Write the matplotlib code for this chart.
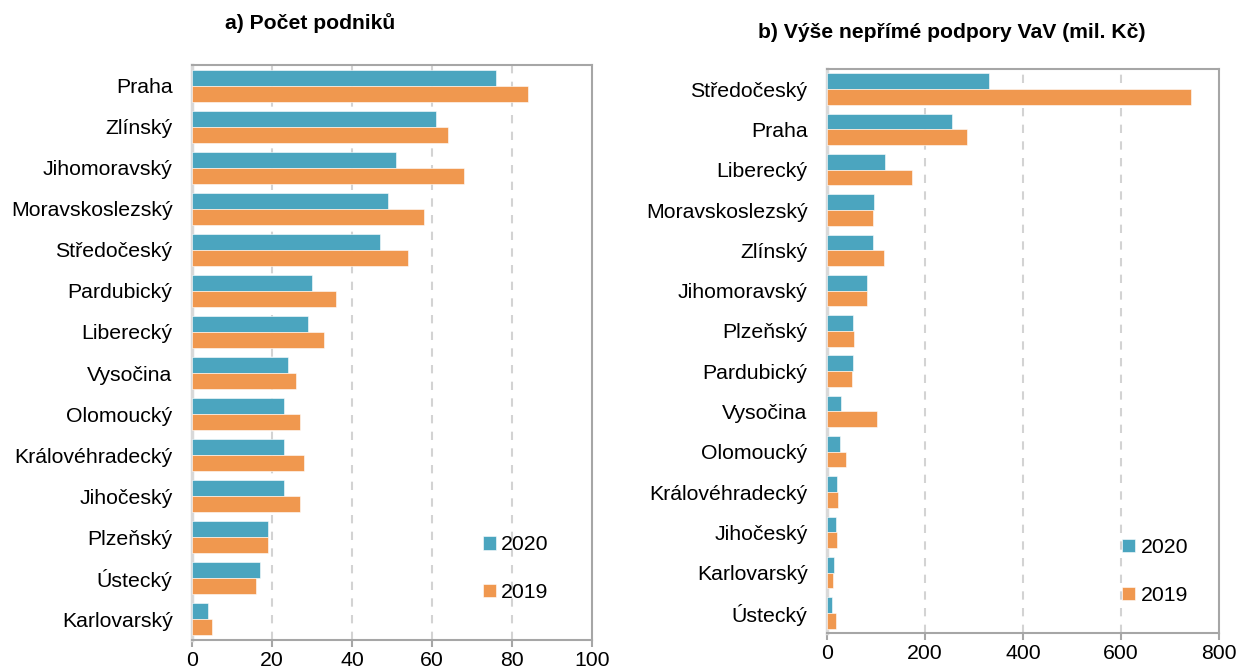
import matplotlib
matplotlib.use("Agg")
import matplotlib.pyplot as plt
import numpy as np

# ── data ────────────────────────────────────────────────────────────────
regions_a = ["Praha", "Zlínský", "Jihomoravský", "Moravskoslezský", "Středočeský",
             "Pardubický", "Liberecký", "Vysočina", "Olomoucký", "Královéhradecký",
             "Jihočeský", "Plzeňský", "Ústecký", "Karlovarský"]
firms_2020 = [76, 61, 51, 49, 47, 30, 29, 24, 23, 23, 23, 19, 17, 4]
firms_2019 = [84, 64, 68, 58, 54, 36, 33, 26, 27, 28, 27, 19, 16, 5]

regions_b = ["Středočeský", "Praha", "Liberecký", "Moravskoslezský", "Zlínský",
             "Jihomoravský", "Plzeňský", "Pardubický", "Vysočina", "Olomoucký",
             "Královéhradecký", "Jihočeský", "Karlovarský", "Ústecký"]
support_2020 = [330, 256, 118, 96, 93, 81, 54, 53, 29, 26, 20, 19, 14, 11]
support_2019 = [742, 286, 173, 94, 116, 81, 55, 52, 103, 39, 23, 20, 13, 18]

years = ["2020", "2019"]
xticks_a = [0, 20, 40, 60, 80, 100]
xticks_b = [0, 200, 400, 600, 800]

TEAL = "#4BA5BF"
ORANGE = "#F0984F"

plt.rcParams["font.family"] = ["Liberation Sans", "DejaVu Sans"]

fig = plt.figure(figsize=(12.37, 6.71), dpi=100)
W, H = 1237, 671


def px_axes(left, top, right, bottom):
    return fig.add_axes([left / W, 1 - bottom / H, (right - left) / W, (bottom - top) / H])


def panel(ax, cats, v20, v19, ticks, leg_x, leg_y):
    y = np.arange(len(cats))
    h = 0.39
    ax.barh(y - h / 2, v20, height=h, color=TEAL, label=years[0], zorder=3,
            edgecolor="white", linewidth=0.4)
    ax.barh(y + h / 2, v19, height=h, color=ORANGE, label=years[1], zorder=3,
            edgecolor="white", linewidth=0.4)
    ax.set_ylim(len(cats) - 0.5, -0.5)
    ax.set_xlim(ticks[0], ticks[-1])
    ax.set_xticks(ticks)
    ax.set_yticks(y)
    ax.set_yticklabels(cats, fontsize=15.3)
    ax.tick_params(axis="x", labelsize=15.3, length=5, direction="out",
                   color="#A6A6A6", width=1.5, pad=3)
    ax.tick_params(axis="y", length=0, pad=14)
    for t in ticks[1:-1]:
        ax.axvline(t, color="#D3D3D3", lw=1.5, ls=(0, (4, 4)), zorder=1)
    for s in ["top", "right", "bottom"]:
        ax.spines[s].set_color("#A6A6A6")
        ax.spines[s].set_linewidth(1.5)
    ax.spines["left"].set_color("#D9D9D9")
    ax.spines["left"].set_linewidth(2.5)
    ax.legend(loc="upper left", bbox_to_anchor=(leg_x, leg_y), frameon=False,
              fontsize=15.3, handlelength=0.6, handleheight=0.6,
              handletextpad=0.25, labelspacing=1.35)


ax1 = px_axes(192, 65, 592, 640)
panel(ax1, regions_a, firms_2020, firms_2019, xticks_a, 0.68, 0.215)
ax2 = px_axes(827, 69, 1219, 633)
panel(ax2, regions_b, support_2020, support_2019, xticks_b, 0.705, 0.202)

fig.text(310 / W, 1 - 23 / H, "a) Počet podniků", ha="center", va="center",
         fontsize=15.2, fontweight="bold")
fig.text(952 / W, 1 - 33 / H, "b) Výše nepřímé podpory VaV (mil. Kč)", ha="center",
         va="center", fontsize=15.2, fontweight="bold")

fig.savefig("out.png", dpi=100)
